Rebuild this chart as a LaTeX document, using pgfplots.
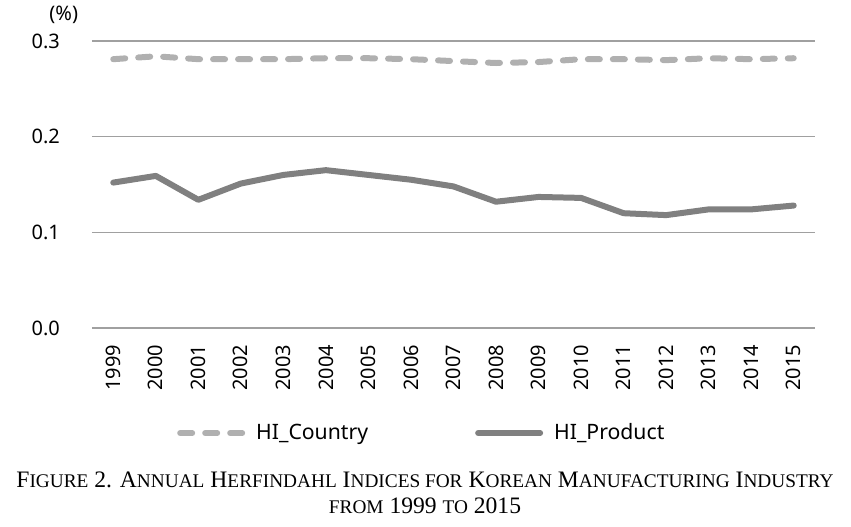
\documentclass[border=0pt]{standalone}
\usepackage{pgfplots}
\pgfplotsset{compat=1.18}
\usepackage{fontspec}
\setmainfont{Noto Sans}
\newfontfamily\capfont{Liberation Serif}

\definecolor{gridgray}{HTML}{A0A0A0}
\definecolor{countrygray}{HTML}{B0B0B0}
\definecolor{productgray}{HTML}{808080}

% small caps by hand: big first letter, rest smaller
\newcommand{\sm}[1]{{\fontsize{9.65}{9.65}\selectfont #1}}

\begin{document}
\begin{tikzpicture}
	\path[use as bounding box] (-46pt,-99pt) rectangle (379.5pt,164pt);
	\begin{axis}[
		scale only axis,
		width=361.5pt, height=143.5pt,
		anchor=south west, at={(0pt,0pt)},
		xmin=1998.5, xmax=2015.5,
		ymin=0, ymax=0.3,
		xtick={1999,...,2015},
		ytick={0,0.1,0.2,0.3},
		major tick length=0pt,
		axis line style={draw=none},
		ymajorgrids,
		grid style={gridgray, line width=0.8pt},
		font=\fontsize{10}{12}\selectfont,
		/pgf/number format/assume math mode=true,
		xticklabel style={rotate=90, anchor=east, xshift=-5pt,
			/pgf/number format/1000 sep={}},
		yticklabel style={xshift=-12.5pt,
			/pgf/number format/.cd, fixed, fixed zerofill, precision=1},
		legend columns=2,
		legend style={at={(0.109,-0.366)}, anchor=west, draw=none,
			font=\fontsize{10.6}{12}\selectfont,
			/tikz/every odd column/.append style={column sep=3.5pt},
			/tikz/every even column/.append style={column sep=51.5pt}},
		legend image code/.code={\draw[#1] (0pt,0pt) -- (31pt,0pt);},
		clip=false,
	]
	\addplot[countrygray, line width=3pt, line cap=round,
		dash pattern=on 6pt off 6.5pt] coordinates {
		(1999,0.281) (2000,0.284) (2001,0.281) (2002,0.281) (2003,0.281)
		(2004,0.282) (2005,0.282) (2006,0.281) (2007,0.279) (2008,0.277)
		(2009,0.278) (2010,0.281) (2011,0.281) (2012,0.280) (2013,0.282)
		(2014,0.281) (2015,0.282)
	};
	\addplot[productgray, line width=3pt, line cap=round, line join=round] coordinates {
		(1999,0.152) (2000,0.159) (2001,0.134) (2002,0.151) (2003,0.160)
		(2004,0.165) (2005,0.160) (2006,0.155) (2007,0.148) (2008,0.132)
		(2009,0.137) (2010,0.136) (2011,0.120) (2012,0.118) (2013,0.124)
		(2014,0.124) (2015,0.128)
	};
	\legend{HI\_Country, HI\_Product}
	\node[font=\fontsize{10}{12}\selectfont] at (rel axis cs:-0.039,1.09) {(\%)};
	\end{axis}
	\node[font=\capfont\fontsize{11.8}{12}\selectfont] at (166.5pt,-76pt)
		{F\sm{IGURE} 2. A\sm{NNUAL} H\sm{ERFINDAHL} I\sm{NDICES FOR} K\sm{OREAN} M\sm{ANUFACTURING} I\sm{NDUSTRY}};
	\node[font=\capfont\fontsize{11.8}{12}\selectfont] at (166.5pt,-89pt)
		{\sm{FROM} 1999 \sm{TO} 2015};
\end{tikzpicture}
\end{document}
